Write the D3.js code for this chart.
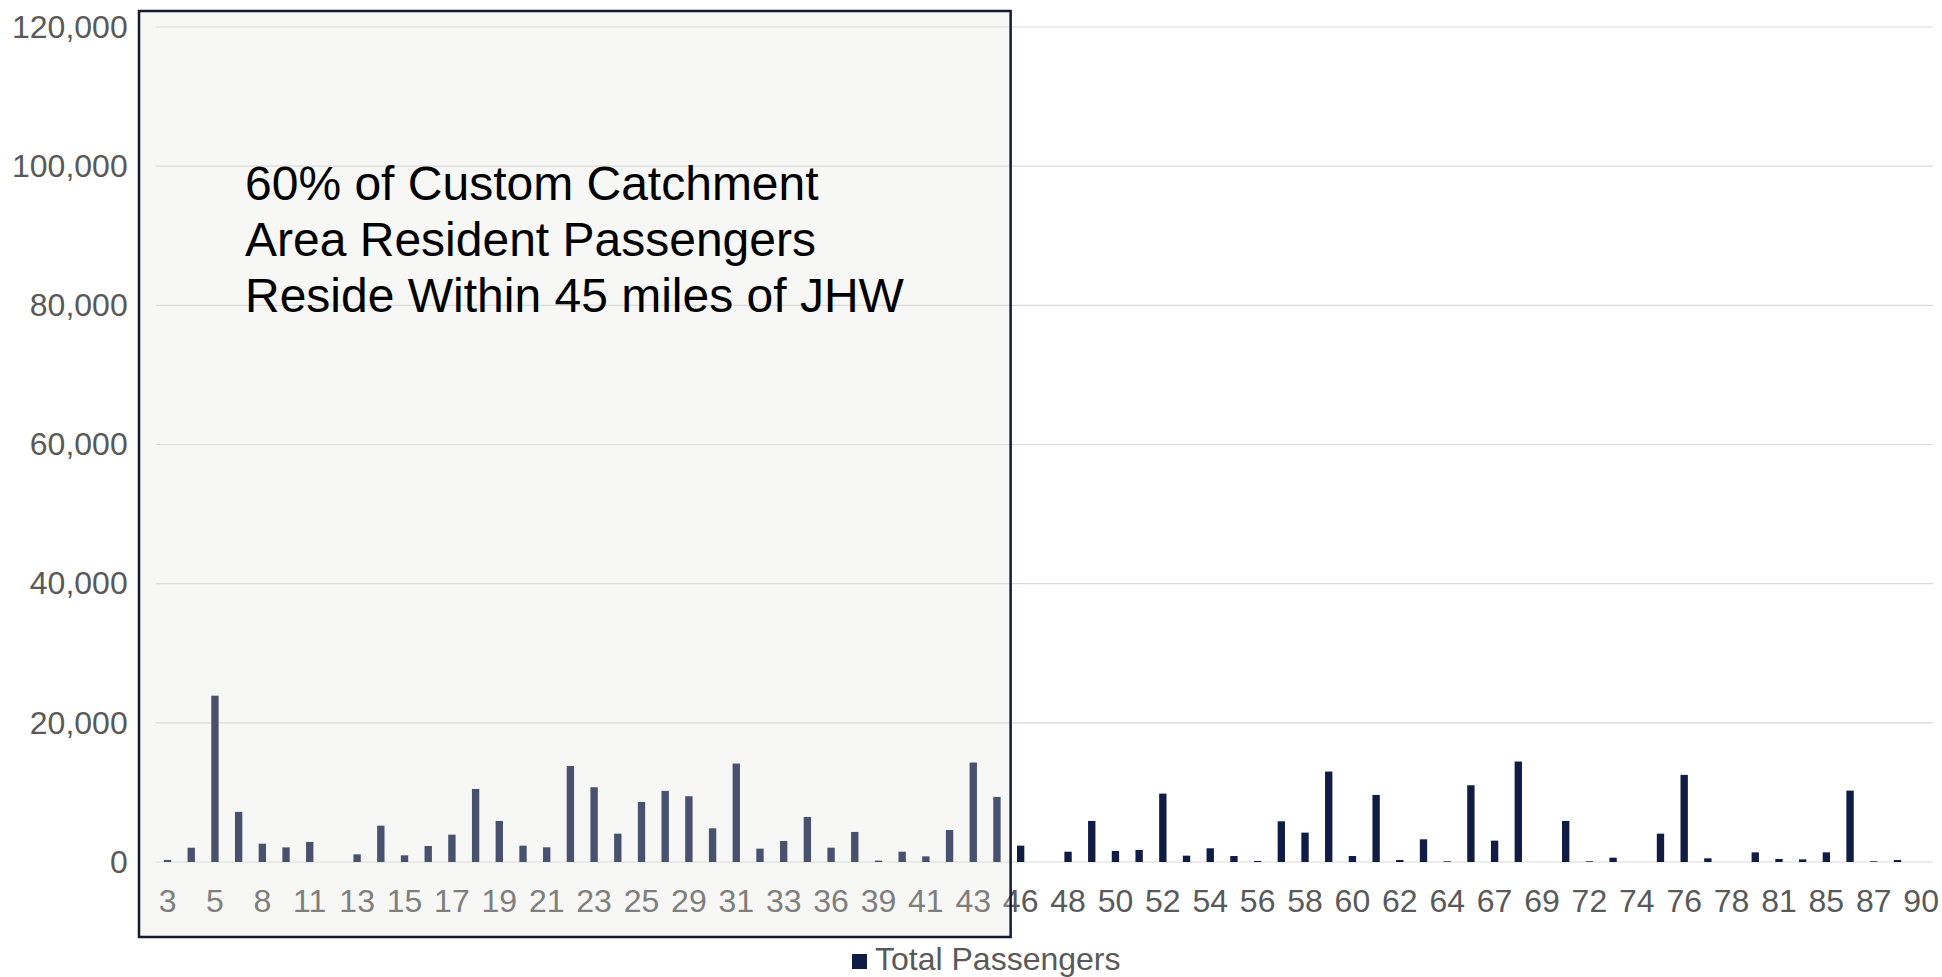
<!DOCTYPE html>
<html>
<head>
<meta charset="utf-8">
<script src="https://cdn.jsdelivr.net/npm/d3@7"></script>
<style>
  body { margin: 0; background: #fff; }
  svg { display: block; font-family: "Liberation Sans", Arial, sans-serif; }
</style>
</head>
<body>
<svg id="chart" width="1942" height="977"></svg>
<script>
// distance (miles) buckets
let categories = [3, 4, 5, 7, 8, 10, 11, 12, 13, 14, 15, 16, 17, 18, 19, 20, 21, 22, 23, 24,
    25, 27, 29, 30, 31, 32, 33, 35, 36, 38, 39, 40, 41, 42, 43, 45, 46, 47, 48, 49,
    50, 51, 52, 53, 54, 55, 56, 57, 58, 59, 60, 61, 62, 63, 64, 66, 67, 68, 69, 71,
    72, 73, 74, 75, 76, 77, 78, 80, 81, 83, 85, 86, 87, 88, 90];

let totalPassengers = [300, 2050, 23900, 7200, 2630, 2100, 2880, 0, 1100, 5220, 960, 2300, 3930, 10500, 5900, 2350, 2110, 13800, 10740, 4070,
    8630, 10220, 9450, 4840, 14150, 1920, 3020, 6470, 2060, 4320, 200, 1480, 810, 4600, 14290, 9350, 2350, 0, 1480, 5900,
    1580, 1730, 9830, 910, 1970, 860, 150, 5850, 4220, 13000, 860, 9640, 290, 3260, 100, 11030, 3070, 14440, 0, 5900,
    100, 620, 0, 4070, 12520, 530, 0, 1390, 430, 380, 1390, 10260, 100, 290, 0];

let yTicks = [0, 20000, 40000, 60000, 80000, 100000, 120000];
let seriesName = "Total Passengers";
let noteLines = ["60% of Custom Catchment", "Area Resident Passengers", "Reside Within 45 miles of JHW"];
let highlightTo = 45;

let svg = d3.select("#chart");
let plotLeft = 155.7, plotRight = 1933, plotTop = 27, plotBottom = 862;
let labelSize = 32;

let x = d3.scaleBand()
    .domain(categories)
    .range([plotLeft, plotRight])
    .paddingInner(0.69)
    .paddingOuter(0.345);

let y = d3.scaleLinear()
    .domain([0, 120000])
    .range([plotBottom, plotTop]);

// gridlines
svg.append("g")
    .selectAll("line")
    .data(yTicks)
    .enter()
    .append("line")
    .attr("x1", plotLeft)
    .attr("x2", plotRight)
    .attr("y1", (d) => y(d))
    .attr("y2", (d) => y(d))
    .attr("stroke", "#d9d9d9")
    .attr("stroke-width", 1.2);

// y axis labels
let yAxis = svg.append("g")
    .attr("transform", "translate(" + (plotLeft - 28) + ",0)")
    .call(d3.axisLeft(y).tickValues(yTicks).tickFormat(d3.format(",")).tickSize(0));
yAxis.select(".domain").remove();
yAxis.selectAll("text")
    .attr("x", 0)
    .attr("font-size", labelSize)
    .attr("font-family", "Liberation Sans, Arial, sans-serif")
    .attr("fill", "#595959");

// x axis labels, every other category
let xAxis = svg.append("g")
    .attr("transform", "translate(0," + plotBottom + ")")
    .call(d3.axisBottom(x).tickValues(categories.filter((d, i) => i % 2 === 0)).tickSize(0));
xAxis.select(".domain").remove();
xAxis.selectAll("text")
    .attr("y", 49.5)
    .attr("dy", 0)
    .attr("font-size", labelSize)
    .attr("font-family", "Liberation Sans, Arial, sans-serif")
    .attr("fill", "#595959");

// bars
svg.append("g")
    .selectAll("rect")
    .data(categories)
    .enter()
    .append("rect")
    .attr("x", (d) => x(d))
    .attr("width", x.bandwidth())
    .attr("y", (d, i) => y(totalPassengers[i]))
    .attr("height", (d, i) => plotBottom - y(totalPassengers[i]))
    .attr("fill", "#101c44");

// highlight box over the near-in buckets
let boxLeft = 139, boxTop = 11;
let boxRight = x(highlightTo) + x.bandwidth() + 10;
svg.append("rect")
    .attr("x", boxLeft)
    .attr("y", boxTop)
    .attr("width", boxRight - boxLeft)
    .attr("height", 937 - boxTop)
    .attr("fill", "rgb(227,227,220)")
    .attr("fill-opacity", 0.27)
    .attr("stroke", "#141a30")
    .attr("stroke-width", 2.5);

svg.append("g")
    .selectAll("text")
    .data(noteLines)
    .enter()
    .append("text")
    .attr("x", 245)
    .attr("y", (d, i) => 199.5 + i * 56.3)
    .attr("font-size", 48)
    .attr("fill", "#000")
    .text((d) => d);

// legend
let legend = svg.append("g");
legend.append("rect")
    .attr("x", 852)
    .attr("y", 954)
    .attr("width", 15)
    .attr("height", 15)
    .attr("fill", "#101c44");
legend.append("text")
    .attr("x", 875)
    .attr("y", 970)
    .attr("font-size", labelSize)
    .attr("fill", "#595959")
    .text(seriesName);
</script>
</body>
</html>
